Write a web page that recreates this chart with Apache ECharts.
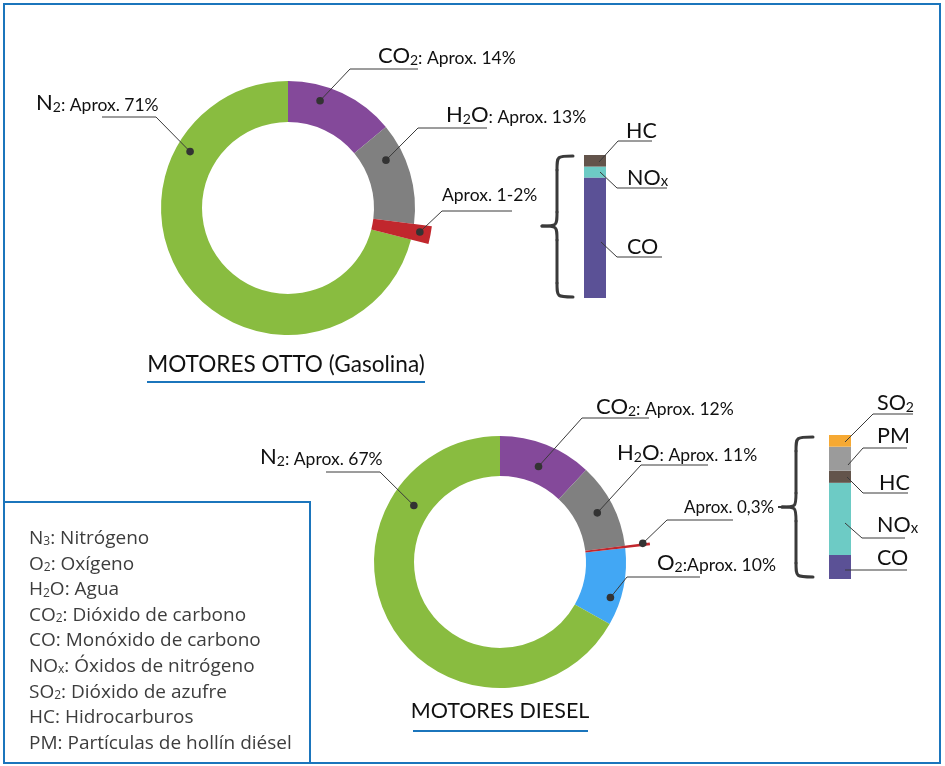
<!DOCTYPE html>
<html><head><meta charset="utf-8">
<script src="https://cdn.jsdelivr.net/npm/echarts@6/dist/echarts.min.js"></script>
<style>html,body{margin:0;padding:0;background:#fff}#c{width:945px;height:766px}</style>
</head><body><div id="c"></div>
<script>
// ---------- data ----------
const ottoNames = ['CO2', 'H2O', 'Otros', 'N2'];
const ottoValues = [14, 13, 2, 71];
const dieselNames = ['CO2', 'H2O', 'Otros', 'O2', 'N2'];
const dieselValues = [12, 11, 0.3, 10, 67];
const ottoBarNames = ['CO', 'NOx', 'HC'];
const ottoBarValues = [84.2, 7.7, 8.1];
const dieselBarNames = ['CO', 'NOx', 'HC', 'PM', 'SO2'];
const dieselBarValues = [16.7, 50.1, 8.4, 16.7, 8.1];
const legendSym = [['N', '3'], ['O', '2'], ['H', '2', 'O'], ['CO', '2'], ['CO'], ['NO', 'x'], ['SO', '2'], ['HC'], ['PM']];
const legendDesc = ['Nitrógeno', 'Oxígeno', 'Agua', 'Dióxido de carbono', 'Monóxido de carbono', 'Óxidos de nitrógeno', 'Dióxido de azufre', 'Hidrocarburos', 'Partículas de hollín diésel'];

// ---------- styles ----------
const COL = {
  CO2: '#84499a', H2O: '#808080', Otros: '#c1272d', N2: '#89bc40', O2: '#42a7f4',
  CO: '#5b5196', NOx: '#6dcbc5', HC: '#63544b', PM: '#9b9b9b', SO2: '#f6a933'
};
const BLUE = '#1b75bc';
const LF = 'Lato, "Open Sans", sans-serif';
const LEGF = '"Open Sans", "Noto Sans", sans-serif';

const ottoPie = { center: [288, 208], rIn: 86, rOut: 127, rRed: 145, red: 2 };
const dieselPie = { center: [500, 562], rIn: 86, rOut: 126, rRed: 151, red: 2 };

function pieSeries(cfg, names, values, mode) {
  return {
    type: 'pie', center: cfg.center,
    radius: [cfg.rIn, mode === 'red' ? cfg.rRed : cfg.rOut],
    startAngle: 90, clockwise: true, silent: true, animation: false,
    label: { show: false }, labelLine: { show: false }, emphasis: { disabled: true },
    data: names.map((n, i) => {
      const isRed = i === cfg.red;
      const show = mode === 'red' ? isRed : !isRed;
      return { name: n, value: values[i], itemStyle: { color: show ? COL[n] : 'rgba(0,0,0,0)', borderWidth: 0 } };
    })
  };
}
function barSeries(names, values, stack, gi) {
  return names.map((n, i) => ({
    type: 'bar', name: n, stack: stack, xAxisIndex: gi, yAxisIndex: gi,
    barWidth: '100%', silent: true, animation: false,
    itemStyle: { color: COL[n] }, data: [values[i]]
  }));
}
const sum = a => a.reduce((s, v) => s + v, 0);

const chart = echarts.init(document.getElementById('c'), null, { renderer: 'canvas' });
chart.setOption({
  backgroundColor: '#fff',
  animation: false,
  grid: [
    { left: 584, top: 155, width: 22, height: 143 },
    { left: 829, top: 435, width: 22, height: 144 }
  ],
  xAxis: [
    { type: 'category', gridIndex: 0, data: ['Otto'], show: false },
    { type: 'category', gridIndex: 1, data: ['Diesel'], show: false }
  ],
  yAxis: [
    { type: 'value', gridIndex: 0, min: 0, max: sum(ottoBarValues), show: false },
    { type: 'value', gridIndex: 1, min: 0, max: sum(dieselBarValues), show: false }
  ],
  series: [
    pieSeries(ottoPie, ottoNames, ottoValues, 'main'),
    pieSeries(ottoPie, ottoNames, ottoValues, 'red'),
    pieSeries(dieselPie, dieselNames, dieselValues, 'main'),
    pieSeries(dieselPie, dieselNames, dieselValues, 'red'),
    ...barSeries(ottoBarNames, ottoBarValues, 'otto', 0),
    ...barSeries(dieselBarNames, dieselBarValues, 'diesel', 1)
  ]
});

// ---------- annotations ----------
function pieAnchor(cfg, values, idx, frac, r) {
  const tot = sum(values);
  const start = sum(values.slice(0, idx)) / tot * 360;
  const ang = (start + frac * values[idx] / tot * 360) * Math.PI / 180;
  return [cfg.center[0] + r * Math.sin(ang), cfg.center[1] - r * Math.cos(ang)];
}
const tok = (fs) => ({ fontSize: fs, lineHeight: fs, verticalAlign: 'bottom', fontFamily: LF, fill: '#111' });
const RICH = { b: tok(22), s: tok(14), m: tok(17.5), a: tok(17.5), x: tok(15), n: tok(17) };
const BRICH = { b: tok(21.5), s: tok(14), x: tok(15) };
const ottoNotes = [
  { idx: 0, frac: 0.33, r: 112, elbow: [350, 69], end: [418, 69], tx: 378, ty: 63, text: '{b|CO}{s|2}{m|: Aprox. 14%}' },
  { idx: 1, frac: 0.29, r: 109, elbow: [418, 128], end: [487, 128], tx: 446, ty: 122, text: '{b|H}{s|2}{b|O}{m|: Aprox. 13%}' },
  { idx: 2, frac: 0.43, r: 134, elbow: [442, 211], end: [512, 211], tx: 442, ty: 200, text: '{a|Aprox. 1-2%}' },
  { idx: 3, frac: 0.765, r: 113, elbow: [156, 117], end: [102, 117], tx: 36, ty: 110, text: '{b|N}{s|2}{m|: Aprox. 71%}' }
];
const dieselNotes = [
  { idx: 0, frac: 0.51, r: 103, elbow: [582, 418], end: [649, 418], tx: 596, ty: 414, text: '{b|CO}{s|2}{m|: Aprox. 12%}' },
  { idx: 1, frac: 0.51, r: 109, elbow: [641, 465], end: [708, 465], tx: 617, ty: 460, text: '{b|H}{s|2}{b|O}{m|: Aprox. 11%}' },
  { idx: 2, frac: 0.0, r: 144, elbow: [667, 520], end: [733, 520], tx: 684, ty: 512, text: '{n|Aprox. 0,3%}' },
  { idx: 3, frac: 0.675, r: 116, elbow: [627, 577], end: [700, 577], tx: 657, ty: 570, text: '{b|O}{s|2}{m|:Aprox. 10%}' },
  { idx: 4, frac: 0.764, r: 103, elbow: [380, 472], end: [326, 472], tx: 260, ty: 464, text: '{b|N}{s|2}{m|: Aprox. 67%}' }
];
const barNotes = [
  { p: [599, 162], elbow: [618, 141], end: [652, 141], tx: 626, ty: 138, text: '{b|HC}' },
  { p: [600, 172], elbow: [617, 188], end: [667, 188], tx: 627, ty: 185, text: '{b|NO}{x|x}' },
  { p: [601, 242], elbow: [617, 257], end: [662, 257], tx: 627, ty: 254, text: '{b|CO}' },
  { p: [845, 442], elbow: [873, 414], end: [913, 414], tx: 877, ty: 410, text: '{b|SO}{s|2}' },
  { p: [848, 465], elbow: [863, 448], end: [907, 448], tx: 877, ty: 443, text: '{b|PM}' },
  { p: [847, 477], elbow: [863, 493], end: [908, 493], tx: 879, ty: 490, text: '{b|HC}' },
  { p: [845, 523], elbow: [862, 538], end: [905, 538], tx: 877, ty: 532, text: '{b|NO}{x|x}' },
  { p: [845, 570], elbow: [845, 570], end: [907, 570], tx: 877, ty: 565, text: '{b|CO}' }
];

const g = [];
const Z = 100;
const LINE = '#3a3a3a';
function addNote(p, n, dot, rich) {
  g.push({ type: 'polyline', silent: true, z: Z, shape: { points: [p, n.elbow, n.end] }, style: { stroke: LINE, lineWidth: 1, fill: null } });
  if (dot) g.push({ type: 'circle', silent: true, z: Z, shape: { cx: p[0], cy: p[1], r: 3.8 }, style: { fill: '#333' } });
  g.push({ type: 'text', silent: true, z: Z, x: n.tx, y: n.ty + 4, style: { text: n.text, rich: rich, align: 'left', verticalAlign: 'bottom' } });
}
ottoNotes.forEach(n => addNote(pieAnchor(ottoPie, ottoValues, n.idx, n.frac, n.r), n, true, RICH));
dieselNotes.forEach(n => addNote(pieAnchor(dieselPie, dieselValues, n.idx, n.frac, n.r), n, true, RICH));
barNotes.forEach(n => addNote(n.p, n, false, BRICH));

// dash between 0,3% label and bracket
g.push({ type: 'line', silent: true, z: Z, shape: { x1: 778, y1: 507, x2: 786, y2: 507 }, style: { stroke: LINE, lineWidth: 2 } });

// curly brackets (left-facing)
function brace(xEnd, xSpine, xTip, yTop, yMid, yBot) {
  const r = 14;
  const parts = [
    { type: 'bezierCurve', shape: { x1: xEnd, y1: yTop, cpx1: xSpine, cpy1: yTop, cpx2: xSpine, cpy2: yTop, x2: xSpine, y2: yTop + r } },
    { type: 'line', shape: { x1: xSpine, y1: yTop + r, x2: xSpine, y2: yMid - r } },
    { type: 'bezierCurve', shape: { x1: xSpine, y1: yMid - r, cpx1: xSpine, cpy1: yMid, cpx2: xSpine, cpy2: yMid, x2: xTip, y2: yMid } },
    { type: 'bezierCurve', shape: { x1: xTip, y1: yMid, cpx1: xSpine, cpy1: yMid, cpx2: xSpine, cpy2: yMid, x2: xSpine, y2: yMid + r } },
    { type: 'line', shape: { x1: xSpine, y1: yMid + r, x2: xSpine, y2: yBot - r } },
    { type: 'bezierCurve', shape: { x1: xSpine, y1: yBot - r, cpx1: xSpine, cpy1: yBot, cpx2: xSpine, cpy2: yBot, x2: xEnd, y2: yBot } }
  ];
  parts.forEach(p => g.push(Object.assign(p, { silent: true, z: Z, style: { stroke: LINE, lineWidth: 3, fill: null, lineCap: 'round' } })));
}
brace(573, 557, 542, 156, 226, 297);
brace(813, 796, 782, 437, 507, 577);

// titles
g.push({ type: 'text', silent: true, z: Z, x: 286, y: 376, style: { text: 'MOTORES OTTO (Gasolina)', font: '22.6px ' + LF, fill: '#111', align: 'center', verticalAlign: 'bottom' } });
g.push({ type: 'line', silent: true, z: Z, shape: { x1: 147, y1: 382, x2: 425, y2: 382 }, style: { stroke: BLUE, lineWidth: 2 } });
g.push({ type: 'text', silent: true, z: Z, x: 500, y: 722, style: { text: 'MOTORES DIESEL', font: '21.5px ' + LF, fill: '#111', align: 'center', verticalAlign: 'bottom' } });
g.push({ type: 'line', silent: true, z: Z, shape: { x1: 413, y1: 731, x2: 588, y2: 731 }, style: { stroke: BLUE, lineWidth: 2 } });

// frames
g.push({ type: 'rect', silent: true, z: Z, shape: { x: 4, y: 4, width: 936, height: 759 }, style: { stroke: BLUE, lineWidth: 2, fill: null } });
g.push({ type: 'rect', silent: true, z: Z, shape: { x: 4, y: 502, width: 306, height: 261 }, style: { stroke: BLUE, lineWidth: 2, fill: null } });

// legend
const LRICH = {
  t: { fontSize: 19, lineHeight: 19, verticalAlign: 'bottom', fontFamily: LEGF, fill: '#3d3d3d' },
  u: { fontSize: 12, lineHeight: 7, verticalAlign: 'bottom', fontFamily: LEGF, fill: '#3d3d3d' }
};
legendSym.forEach((s, i) => {
  let txt = '{t|' + s[0] + '}';
  if (s[1]) txt += '{u|' + s[1] + '}';
  if (s[2]) txt += '{t|' + s[2] + '}';
  txt += '{t|: ' + legendDesc[i] + '}';
  g.push({ type: 'text', silent: true, z: Z, x: 29, y: 544 + i * 25.6 + 4, style: { text: txt, rich: LRICH, align: 'left', verticalAlign: 'bottom' } });
});

chart.setOption({ graphic: { elements: g } });
</script>
</body></html>
